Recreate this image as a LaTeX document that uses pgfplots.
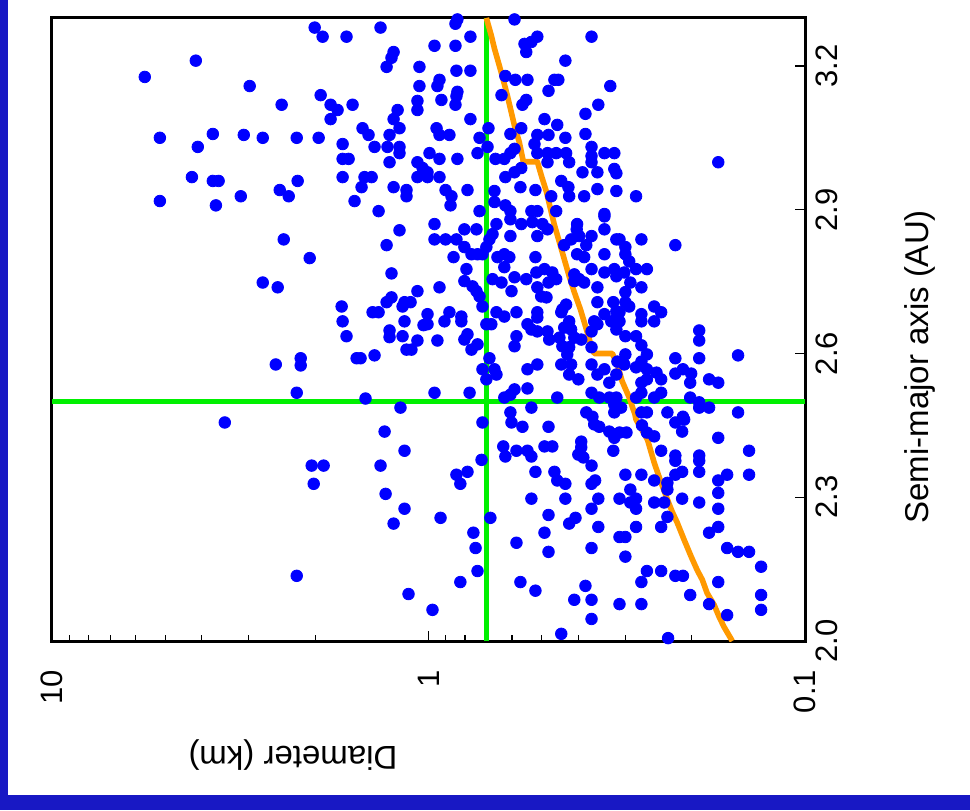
\documentclass[border=0pt]{standalone}
\usepackage{fontspec}
\setmainfont{Liberation Sans}
\usepackage{pgfplots}
\usepackage{pgfplotstable}
\pgfplotsset{compat=1.18}

\definecolor{frameblue}{RGB}{24,24,196}
\definecolor{dotblue}{RGB}{0,0,255}
\definecolor{limitorange}{RGB}{255,153,0}
\definecolor{cutgreen}{RGB}{0,240,0}

% Asteroids: diameter (km) and semi-major axis (AU)
\pgfplotstableread{
D a
4.15 3.211
5.67 3.177
5.17 3.050
3.74 3.058
4.10 3.031
4.25 2.968
3.74 2.960
3.61 2.960
5.17 2.918
3.67 2.909
2.006 3.280
1.911 3.261
1.651 3.261
1.341 3.280
1.238 3.229
1.254 3.217
1.292 3.198
1.057 3.198
1.057 3.158
2.985 3.158
1.934 3.139
2.455 3.119
1.820 3.119
1.744 3.108
1.591 3.119
1.820 3.089
1.070 3.127
1.070 3.108
1.208 3.108
1.238 3.089
1.497 3.070
1.443 3.056
1.194 3.070
1.269 3.056
3.095 3.056
2.756 3.050
2.239 3.050
1.958 3.050
1.691 3.037
1.391 3.031
1.285 3.031
1.194 3.031
1.194 3.018
1.691 3.006
1.630 3.006
1.269 2.999
1.070 2.999
1.037 2.987
1.691 2.968
1.479 2.968
1.416 2.968
1.070 2.968
1.506 2.947
1.238 2.947
1.144 2.941
1.144 2.928
2.226 2.960
2.484 2.941
2.351 2.928
3.152 2.928
1.572 2.918
1.357 2.897
0.838 3.297
0.848 3.288
0.591 3.297
0.964 3.242
0.848 3.242
0.774 3.261
0.556 3.246
0.533 3.250
0.514 3.261
0.550 3.229
0.369 3.261
0.433 3.211
0.843 3.190
0.774 3.190
0.935 3.171
0.947 3.158
0.625 3.179
0.588 3.171
0.546 3.171
0.463 3.171
0.452 3.171
0.329 3.158
0.838 3.146
0.843 3.137
0.924 3.129
0.848 3.119
0.640 3.139
0.550 3.129
0.563 3.119
0.480 3.148
0.354 3.119
0.383 3.100
0.774 3.089
0.492 3.089
0.455 3.077
0.952 3.070
0.935 3.056
0.880 3.056
0.693 3.070
0.732 3.050
0.606 3.058
0.567 3.070
0.514 3.056
0.480 3.056
0.433 3.050
0.383 3.058
0.697 3.031
0.741 3.018
0.994 3.018
0.935 3.006
0.838 3.006
0.664 3.006
0.629 3.006
0.591 3.027
0.606 3.018
0.523 3.037
0.514 3.018
0.483 3.018
0.458 3.018
0.431 3.018
0.483 2.999
0.423 2.999
0.369 3.031
0.369 3.012
0.369 2.999
0.341 3.018
0.321 3.018
0.321 2.985
0.317 2.976
0.390 2.978
0.356 2.978
1.006 2.978
1.006 2.968
0.935 2.968
0.591 2.978
0.567 2.987
0.625 2.968
0.444 2.960
0.570 2.947
0.520 2.941
0.425 2.947
0.423 2.928
0.472 2.928
0.356 2.943
0.386 2.928
0.317 2.939
0.901 2.941
0.869 2.928
0.788 2.941
0.668 2.939
0.668 2.916
0.874 2.909
0.625 2.909
0.606 2.897
0.533 2.897
0.514 2.897
0.458 2.897
0.732 2.897
0.341 2.891
0.170 2.999
0.281 2.928
3.476 2.456
2.424 2.838
2.068 2.799
1.194 2.857
1.292 2.826
1.254 2.767
2.756 2.748
2.515 2.738
1.070 2.730
1.254 2.717
1.292 2.707
1.701 2.698
1.172 2.698
1.116 2.707
1.158 2.707
1.408 2.686
1.357 2.686
1.031 2.659
1.691 2.667
1.158 2.667
1.269 2.648
1.269 2.634
1.651 2.636
1.172 2.636
1.070 2.627
1.144 2.608
1.110 2.608
1.552 2.590
1.515 2.590
1.391 2.596
2.185 2.590
2.185 2.575
2.545 2.577
2.239 2.518
1.470 2.506
1.187 2.487
0.964 2.870
0.803 2.859
0.746 2.859
0.660 2.870
0.606 2.880
0.567 2.870
0.530 2.874
0.498 2.870
0.483 2.859
0.964 2.838
0.901 2.838
0.843 2.838
0.676 2.849
0.689 2.838
0.606 2.845
0.514 2.845
0.403 2.870
0.404 2.859
0.369 2.845
0.341 2.859
0.341 2.886
0.317 2.838
0.436 2.826
0.381 2.826
0.418 2.838
0.398 2.845
0.803 2.822
0.769 2.807
0.741 2.807
0.702 2.822
0.719 2.807
0.858 2.801
0.656 2.801
0.629 2.807
0.610 2.801
0.629 2.780
0.520 2.801
0.403 2.807
0.386 2.801
0.341 2.807
0.793 2.776
0.517 2.769
0.492 2.776
0.469 2.769
0.458 2.755
0.410 2.765
0.398 2.755
0.369 2.776
0.341 2.769
0.321 2.776
0.803 2.751
0.676 2.755
0.640 2.748
0.591 2.759
0.550 2.755
0.480 2.748
0.410 2.751
0.386 2.748
0.356 2.738
0.935 2.738
0.764 2.740
0.746 2.730
0.732 2.719
0.602 2.730
0.514 2.738
0.502 2.719
0.486 2.717
0.356 2.707
0.323 2.707
0.719 2.698
0.431 2.702
0.441 2.692
0.444 2.686
0.341 2.682
0.317 2.688
1.006 2.682
0.880 2.686
0.818 2.677
0.660 2.686
0.629 2.677
0.584 2.686
0.514 2.686
0.514 2.675
0.423 2.667
0.363 2.667
0.356 2.661
0.327 2.667
0.907 2.667
0.818 2.667
0.702 2.661
0.681 2.661
0.546 2.661
0.533 2.650
0.514 2.646
0.483 2.646
0.436 2.654
0.418 2.650
0.369 2.646
0.317 2.650
1.006 2.661
0.788 2.640
0.803 2.629
0.584 2.636
0.478 2.629
0.449 2.633
0.410 2.633
0.393 2.629
0.947 2.627
0.741 2.619
0.769 2.608
0.591 2.615
0.441 2.615
0.423 2.613
0.369 2.613
0.428 2.598
0.689 2.590
0.444 2.577
0.418 2.577
0.369 2.577
0.341 2.567
0.315 2.583
0.719 2.567
0.668 2.567
0.514 2.577
0.546 2.567
0.702 2.546
0.660 2.556
0.423 2.556
0.400 2.546
0.356 2.556
0.331 2.539
0.317 2.556
0.964 2.518
0.778 2.518
0.591 2.525
0.606 2.514
0.629 2.508
0.546 2.527
0.455 2.508
0.369 2.518
0.352 2.508
0.331 2.508
0.317 2.508
0.533 2.487
0.606 2.477
0.381 2.477
0.367 2.468
0.321 2.477
0.311 2.838
0.272 2.838
0.221 2.826
0.300 2.822
0.300 2.807
0.293 2.792
0.281 2.776
0.263 2.776
0.302 2.769
0.317 2.761
0.291 2.748
0.272 2.738
0.300 2.728
0.300 2.707
0.293 2.698
0.311 2.686
0.2515 2.698
0.241 2.686
0.272 2.682
0.272 2.667
0.2515 2.667
0.311 2.667
0.191 2.648
0.191 2.627
0.300 2.636
0.281 2.636
0.272 2.617
0.1506 2.596
0.221 2.590
0.191 2.590
0.300 2.598
0.263 2.598
0.272 2.583
0.302 2.577
0.281 2.571
0.263 2.567
0.221 2.558
0.211 2.567
0.2006 2.558
0.248 2.560
0.241 2.546
0.263 2.546
0.272 2.539
0.2018 2.539
0.1798 2.546
0.170 2.539
0.241 2.518
0.2515 2.508
0.281 2.508
0.272 2.518
0.2018 2.508
0.191 2.498
0.191 2.487
0.1798 2.487
0.1506 2.477
0.232 2.477
0.211 2.468
0.272 2.477
0.263 2.477
0.321 2.493
0.308 2.487
1.308 2.437
1.158 2.397
2.043 2.366
1.899 2.366
1.341 2.366
2.018 2.328
1.300 2.307
1.158 2.276
1.238 2.245
2.239 2.136
1.130 2.098
0.719 2.456
0.602 2.456
0.563 2.447
0.480 2.447
0.363 2.452
0.352 2.447
0.331 2.437
0.321 2.431
0.321 2.424
0.633 2.406
0.625 2.385
0.584 2.397
0.546 2.397
0.533 2.385
0.492 2.406
0.469 2.406
0.393 2.416
0.393 2.404
0.400 2.389
0.388 2.383
0.323 2.397
0.723 2.378
0.788 2.353
0.843 2.347
0.823 2.328
0.520 2.353
0.463 2.353
0.455 2.335
0.433 2.328
0.369 2.366
0.369 2.328
0.361 2.335
0.533 2.297
0.433 2.297
0.354 2.297
0.369 2.276
0.929 2.257
0.685 2.257
0.480 2.263
0.407 2.257
0.423 2.245
0.354 2.238
0.760 2.226
0.492 2.226
0.750 2.194
0.584 2.205
0.480 2.186
0.369 2.194
0.741 2.146
0.823 2.123
0.570 2.123
0.520 2.105
0.383 2.115
0.410 2.086
0.369 2.086
0.976 2.065
0.369 2.046
0.444 2.015
0.271 2.450
0.221 2.456
0.2094 2.462
0.311 2.435
0.298 2.435
0.263 2.435
0.2515 2.427
0.212 2.437
0.170 2.424
0.241 2.397
0.221 2.387
0.221 2.376
0.191 2.387
0.191 2.376
0.1408 2.397
0.300 2.347
0.272 2.347
0.221 2.347
0.212 2.353
0.191 2.353
0.161 2.347
0.170 2.335
0.1408 2.347
0.2515 2.335
0.232 2.330
0.232 2.316
0.291 2.316
0.170 2.309
0.311 2.297
0.291 2.289
0.281 2.297
0.281 2.276
0.2515 2.289
0.2366 2.289
0.212 2.297
0.191 2.289
0.170 2.276
0.232 2.259
0.241 2.238
0.281 2.238
0.170 2.238
0.1798 2.226
0.311 2.217
0.300 2.217
0.161 2.194
0.1506 2.186
0.1408 2.186
0.1308 2.155
0.300 2.176
0.263 2.146
0.241 2.146
0.221 2.136
0.211 2.136
0.272 2.123
0.170 2.123
0.2018 2.096
0.1308 2.096
0.311 2.077
0.272 2.077
0.1798 2.077
0.1308 2.065
0.161 2.054
0.231 2.006
}\asteroids

% Orange limit curve
\pgfplotstableread{
D a
0.702 3.300
0.681 3.263
0.668 3.236
0.637 3.179
0.617 3.137
0.591 3.075
0.574 3.041
0.564 3.012
0.560 3.000
0.514 3.000
0.501 2.970
0.486 2.937
0.474 2.901
0.463 2.868
0.449 2.832
0.436 2.797
0.423 2.761
0.410 2.728
0.395 2.692
0.383 2.657
0.372 2.623
0.363 2.600
0.325 2.600
0.315 2.577
0.306 2.542
0.293 2.508
0.283 2.473
0.281 2.462
0.262 2.420
0.2515 2.372
0.241 2.330
0.232 2.295
0.2254 2.270
0.2185 2.247
0.2094 2.211
0.2006 2.176
0.1934 2.148
0.1875 2.128
0.182 2.100
0.1743 2.075
0.169 2.050
0.164 2.029
0.156 2.000
}\limitline

\begin{document}
\begin{tikzpicture}
\path[use as bounding box] (0,0) rectangle (485pt,405pt);
\fill[frameblue] (0,0) rectangle (485pt,405pt);
\fill[white] (4pt,7.5pt) rectangle (485pt,405pt);
\begin{axis}[
  at={(26pt,84.5pt)}, anchor=south west,
  scale only axis, width=376.5pt, height=311.5pt,
  xmode=log, x dir=reverse, xmin=0.1, xmax=10,
  ymin=2.0, ymax=3.3,
  xtick={0.1,1,10}, xticklabels={0.1,1,10},
  minor xtick={0.2,0.3,0.4,0.5,0.6,0.7,0.8,0.9,2,3,4,5,6,7,8,9},
  ytick={2.0,2.3,2.6,2.9,3.2}, yticklabels={2.0,2.3,2.6,2.9,3.2},
  xtick pos=bottom, ytick pos=right, yticklabel pos=right,
  tick align=inside,
  major tick length=5pt, minor tick length=3pt,
  tick style={black, line width=0.6pt},
  axis line style={line width=1.5pt},
  xticklabel style={rotate=90, anchor=east, font=\fontsize{15.5}{18}\selectfont},
  xticklabel shift=11pt,
  yticklabel style={rotate=90, anchor=north, font=\fontsize{15.5}{18}\selectfont},
  yticklabel shift=2pt,
  xlabel={Diameter (km)}, ylabel={Semi-major axis (AU)},
  every axis x label/.style={at={(axis description cs:0.32,-0.183)}, rotate=180, anchor=center, font=\fontsize{16.5}{20}\selectfont},
  every axis y label/.style={at={(axis description cs:1.153,0.44)}, rotate=90, anchor=center, font=\fontsize{16.5}{20}\selectfont},
]
\addplot[cutgreen, line width=2.5pt] coordinates {(0.1,2.5) (10,2.5)};
\addplot[cutgreen, line width=2.5pt] coordinates {(0.7,2.0) (0.7,3.3)};
\addplot[limitorange, line width=2.8pt, line join=round] table[x=D, y=a] {\limitline};
\addplot[only marks, mark=*, mark size=2.9pt, mark options={draw=dotblue, fill=dotblue}] table[x=D, y=a] {\asteroids};
\addplot[limitorange, line width=1.1pt, dash pattern=on 1.1pt off 2pt] table[x=D, y=a] {\limitline};
\end{axis}
\end{tikzpicture}
\end{document}
